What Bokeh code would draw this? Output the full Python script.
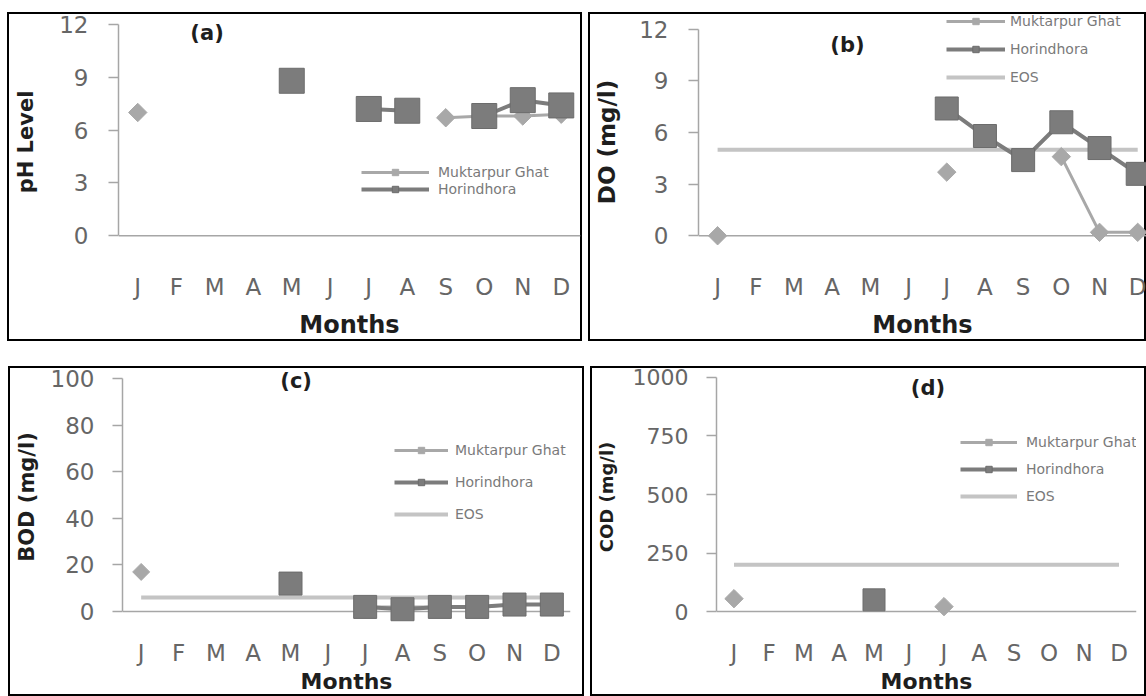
import math
import numpy as np
from bokeh.plotting import figure
from bokeh.models import Range1d, FixedTicker, Legend, LegendItem, Label, Span
from bokeh.layouts import row, column
from bokeh.embed import file_html
from bokeh.resources import INLINE

NaN = float("nan")

# ---------------- data ----------------
months = ["J", "F", "M", "A", "M", "J", "J", "A", "S", "O", "N", "D"]
month_pos = list(range(12))

ph_muktarpur = [7.0, NaN, NaN, NaN, NaN, NaN, NaN, NaN, 6.7, 6.8, 6.8, 6.9]
ph_horindhora = [NaN, NaN, NaN, NaN, 8.8, NaN, 7.2, 7.1, NaN, 6.8, 7.7, 7.4]
ph_ticks = [0, 3, 6, 9, 12]

do_muktarpur = [0.0, NaN, NaN, NaN, NaN, NaN, 3.7, NaN, NaN, 4.6, 0.2, 0.2]
do_horindhora = [NaN, NaN, NaN, NaN, NaN, NaN, 7.4, 5.8, 4.4, 6.6, 5.1, 3.6]
do_eos = [5, 5, 5, 5, 5, 5, 5, 5, 5, 5, 5, 5]
do_ticks = [0, 3, 6, 9, 12]

bod_muktarpur = [17, NaN, NaN, NaN, NaN, NaN, 2, 2, 2, 2, 3, 3]
bod_horindhora = [NaN, NaN, NaN, NaN, 12, NaN, 2, 1, 2, 2, 3, 3]
bod_eos = [6, 6, 6, 6, 6, 6, 6, 6, 6, 6, 6, 6]
bod_ticks = [0, 20, 40, 60, 80, 100]

cod_muktarpur = [55, NaN, NaN, NaN, NaN, NaN, 21, NaN, NaN, NaN, NaN, NaN]
cod_horindhora = [NaN, NaN, NaN, NaN, 50, NaN, NaN, NaN, NaN, NaN, NaN, NaN]
cod_eos = [200, 200, 200, 200, 200, 200, 200, 200, 200, 200, 200, 200]
cod_ticks = [0, 250, 500, 750, 1000]

# ---------------- styling ----------------
FONT = "DejaVu Sans"
C_MUK = "#a8a8a8"
C_HOR = "#7c7c7c"
C_EOS = "#c4c4c4"
C_AXIS = "#a6a6a6"
C_TICK = "#666666"
C_TITLE = "#1e1e1e"


def make_panel(tag, ylabel, ticks, ymax, muk, hor, eos, g):
    W, H = g["w"], g["h"]
    fl, fr, ft, fz, pad = g["fl"], g["fr"], g["ft"], g["fz"], g["pad"]
    fb = fz + pad            # frame bottom (relative to box top)
    ppu = (fz - ft) / ymax   # pixels per data unit
    ymin = -pad / ppu
    ftop = 2                 # frame reaches up to the box border
    yend = ymax + (ft - ftop) / ppu
    p = figure(width=W, height=H, output_backend="svg", toolbar_location=None,
               title=None,
               x_range=Range1d(-0.5, g["xend"]), y_range=Range1d(ymin, yend),
               min_border_left=fl, min_border_right=W - fr,
               min_border_top=ftop, min_border_bottom=H - fb,
               margin=g["margin"],
               styles={"outline": "2px solid #000", "outline-offset": "-2px"})
    p.outline_line_color = None
    p.background_fill_color = None
    p.border_fill_color = None
    p.xgrid.grid_line_color = None
    p.ygrid.grid_line_color = None

    xa = p.xaxis[0]
    xa.ticker = FixedTicker(ticks=month_pos)
    xa.major_label_overrides = {i: m for i, m in zip(month_pos, months)}
    xa.axis_line_color = None
    xa.major_tick_line_color = None
    xa.minor_tick_line_color = None
    xa.major_tick_out = 0
    xa.major_tick_in = 0
    xa.minor_tick_out = 0
    xa.minor_tick_in = 0
    xa.major_label_standoff = g["xstand"]
    xa.major_label_text_font = FONT
    xa.major_label_text_font_size = g["xfs"]
    xa.major_label_text_color = C_TICK
    xa.axis_label = "Months"
    xa.axis_label_text_font = FONT
    xa.axis_label_text_font_style = "bold"
    xa.axis_label_text_font_size = g["mfs"]
    xa.axis_label_text_color = C_TITLE
    xa.axis_label_standoff = g["mstand"]

    ya = p.yaxis[0]
    ya.ticker = FixedTicker(ticks=ticks)
    ya.bounds = (0, ymax)
    ya.axis_line_color = C_AXIS
    ya.axis_line_width = 1.5
    ya.major_tick_line_color = C_AXIS
    ya.major_tick_line_width = 1.5
    ya.major_tick_out = 10
    ya.major_tick_in = 0
    ya.minor_tick_line_color = None
    ya.minor_tick_out = 0
    ya.minor_tick_in = 0
    ya.major_label_standoff = g["ystand"]
    ya.major_label_text_font = FONT
    ya.major_label_text_font_size = g["yfs"]
    ya.major_label_text_color = C_TICK
    ya.axis_label = ylabel
    ya.axis_label_text_font = FONT
    ya.axis_label_text_font_style = "bold"
    ya.axis_label_text_font_size = g["ylab_fs"]
    ya.axis_label_text_color = C_TITLE
    ya.axis_label_standoff = g["ylab_stand"]

    # horizontal baseline at zero
    p.add_layout(Span(location=0, dimension="width", line_color=C_AXIS,
                      line_width=1.5, level="underlay"))

    items = []
    if eos is not None:
        r_eos = p.line(month_pos, np.array(eos, dtype=float), line_color=C_EOS, line_width=4)
    lm = p.line(month_pos, np.array(muk, dtype=float), line_color=C_MUK, line_width=3)
    sm = p.scatter(month_pos, np.array(muk, dtype=float), marker="square", angle=math.pi / 4,
                   size=g["dsize"], fill_color=C_MUK, line_color=C_MUK)
    lh = p.line(month_pos, np.array(hor, dtype=float), line_color=C_HOR, line_width=4)
    sh = p.scatter(month_pos, np.array(hor, dtype=float), marker="square",
                   size=g["ssize"], fill_color=C_HOR, line_color="#6c6c6c")
    items.append(LegendItem(label="Muktarpur Ghat", renderers=[lm, sm]))
    items.append(LegendItem(label="Horindhora", renderers=[lh, sh]))
    if eos is not None:
        items.append(LegendItem(label="EOS", renderers=[r_eos]))

    leg = Legend(items=items, location=(g["lx"], fb - g["lbot"]),
                 padding=0, margin=0, spacing=g["lspace"], border_line_color=None,
                 background_fill_alpha=0, glyph_width=g["gw"], glyph_height=16,
                 label_height=16, label_standoff=g["lstand"],
                 label_text_font=FONT, label_text_font_size="14px",
                 label_text_color="#7a7a7a")
    p.add_layout(leg)

    p.add_layout(Label(x=g["tag"][0], y=g["tag"][1], text=tag, text_font=FONT,
                       text_font_style="bold", text_font_size="21px",
                       text_color=C_TITLE, text_align="center", text_baseline="middle"))
    return p


# geometry: all pixel values relative to each panel's own box
geo_a = dict(w=575, h=329, margin=(12, 0, 0, 7), fl=111, fr=573, ft=12, fz=225, pad=34,
             xend=11.5, xstand=4, xfs="23px", mfs="24px", mstand=8,
             ystand=20, yfs="23px", ylab_fs="21px", ylab_stand=18,
             dsize=13, ssize=25, lx=243, lbot=187, lspace=1, gw=68, lstand=9,
             tag=(1.8, 11.5))
geo_b = dict(w=558, h=329, margin=(12, 0, 0, 6), fl=110, fr=558, ft=17, fz=225, pad=34,
             xend=11.23, xstand=4, xfs="23px", mfs="24px", mstand=8,
             ystand=20, yfs="23px", ylab_fs="23px", ylab_stand=16,
             dsize=13, ssize=23, lx=248, lbot=75, lspace=12, gw=59, lstand=5,
             tag=(3.4, 11.1))
geo_c = dict(w=576, h=330, margin=(25, 0, 0, 8), fl=114, fr=562, ft=12, fz=246, pad=14,
             xend=11.5, xstand=14, xfs="23px", mfs="22px", mstand=0,
             ystand=18, yfs="23px", ylab_fs="21px", ylab_stand=9,
             dsize=12, ssize=23, lx=272, lbot=157, lspace=16, gw=54, lstand=7,
             tag=(4.15, 99))
geo_d = dict(w=556, h=330, margin=(25, 0, 0, 6), fl=126, fr=546, ft=11, fz=246, pad=14,
             xend=11.5, xstand=14, xfs="23px", mfs="22px", mstand=0,
             ystand=18, yfs="22px", ylab_fs="18px", ylab_stand=13,
             dsize=13, ssize=22, lx=244, lbot=139, lspace=11, gw=57, lstand=9,
             tag=(5.54, 957))

pa = make_panel("(a)", "pH Level", ph_ticks, 12, ph_muktarpur, ph_horindhora, None, geo_a)
pb = make_panel("(b)", "DO (mg/l)", do_ticks, 12, do_muktarpur, do_horindhora, do_eos, geo_b)
pc = make_panel("(c)", "BOD (mg/l)", bod_ticks, 100, bod_muktarpur, bod_horindhora, bod_eos, geo_c)
pd = make_panel("(d)", "COD (mg/l)", cod_ticks, 1000, cod_muktarpur, cod_horindhora, cod_eos, geo_d)

layout = column(row(pa, pb), row(pc, pd))
open("out.html", "w").write(file_html(layout, INLINE))
